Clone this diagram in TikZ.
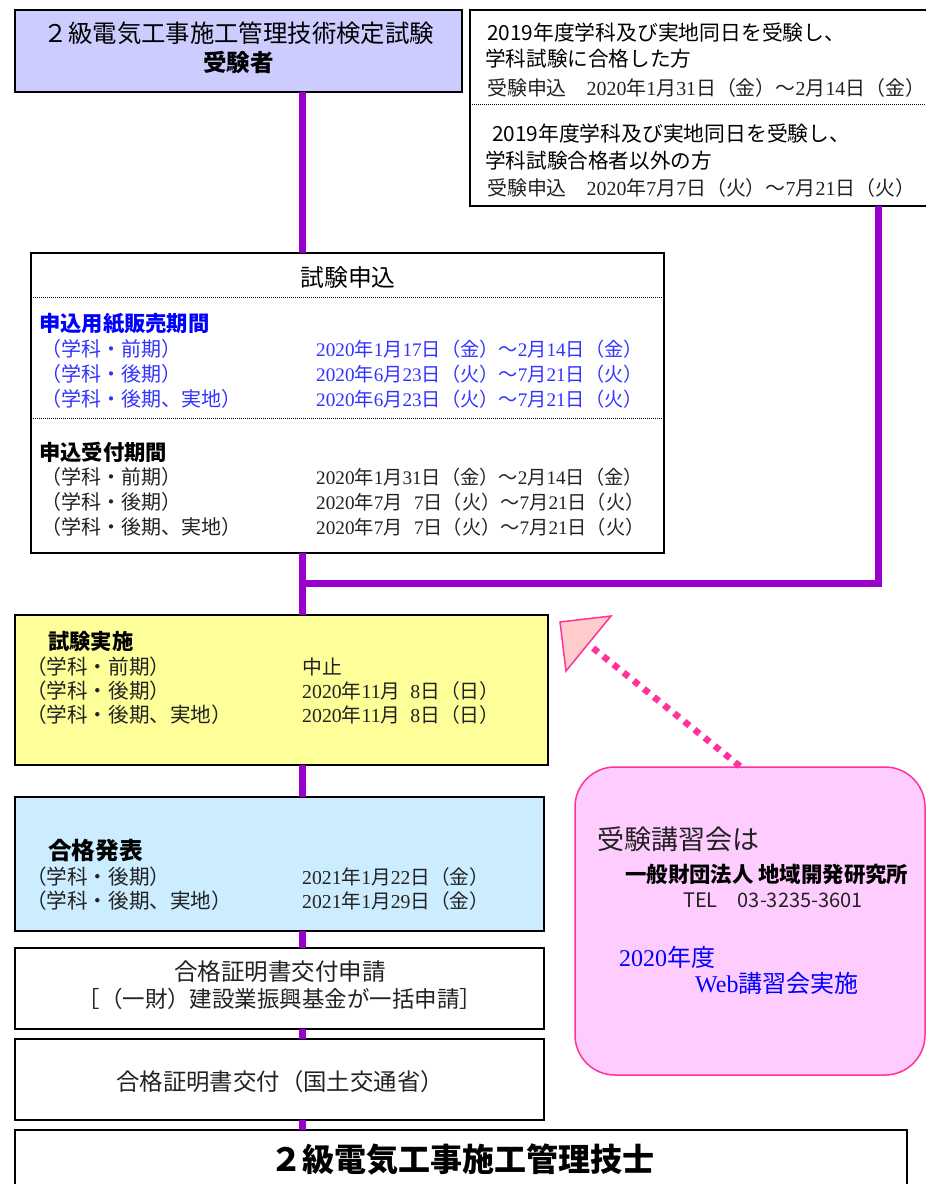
\documentclass[tikz,border=0pt]{standalone}
\usepackage{fontspec}
\setmainfont{Noto Sans CJK JP}
\newfontfamily\srf{Liberation Serif}
\newcommand\nn[1]{{\srf #1}}
\definecolor{pur}{HTML}{9900CC}
\definecolor{lav}{HTML}{CCCCFF}
\definecolor{yel}{HTML}{FFFF99}
\definecolor{sky}{HTML}{CCECFF}
\definecolor{pinkfill}{HTML}{FFCCFF}
\definecolor{pinkline}{HTML}{FF3399}
\definecolor{pinkhead}{HTML}{FFCCCC}
\definecolor{rowblue}{HTML}{3333FF}
\definecolor{txtgray}{HTML}{222222}
\tikzset{
  box/.style={draw=black, line width=1.6pt, inner sep=0pt, outer sep=0pt, rectangle, fill=white},
  pline/.style={draw=pur, line width=7pt},
  dotline/.style={draw=black, line width=1pt, dash pattern=on 1pt off 1pt},
  txt/.style={inner sep=0pt, anchor=west},
  ctxt/.style={inner sep=0pt, anchor=center},
  fs/.style={font=\fontsize{#1pt}{#1pt}\selectfont},
  bfs/.style={font=\fontsize{#1pt}{#1pt}\selectfont\bfseries},
  pinkdash/.style={draw=pinkline, line width=6.5pt, dash pattern=on 6.5pt off 6.5pt}
}
\begin{document}
\begin{tikzpicture}[x=1pt,y=-1pt]
\clip (0,0) rectangle (926,1184);
\fill[white] (0,0) rectangle (926,1184);

% boxes
\node[box, fill=lav, minimum width=447pt, minimum height=82pt] (b1) at (238.5,51) {};
\node[box, minimum width=457pt, minimum height=196pt] (b2) at (698.5,108) {};
\node[box, minimum width=633pt, minimum height=300pt] (apply) at (347.5,403) {};
\node[box, fill=yel, minimum width=533pt, minimum height=150pt] (exam) at (281.5,690) {};
\node[box, fill=sky, minimum width=529pt, minimum height=134pt] (pass) at (279.5,864) {};
\node[box, minimum width=529pt, minimum height=81pt] (cert1) at (279.5,988.5) {};
\node[box, minimum width=529pt, minimum height=81pt] (cert2) at (279.5,1079.5) {};
\node[box, minimum width=892pt, minimum height=65pt] (final) at (461,1162.5) {};
\node[draw=pinkline, fill=pinkfill, line width=1.5pt, rounded corners=40pt, minimum width=350pt, minimum height=308pt, inner sep=0pt] (pink) at (750,921) {};

% connectors
\coordinate (trunk) at (302,0);
\coordinate (rx) at (878,0);
\coordinate (join) at (302,583);
\draw[pline] (b1.south -| trunk) -- (apply.north -| trunk);
\draw[pline] (apply.south -| trunk) -- (exam.north -| trunk);
\draw[pline] (exam.south -| trunk) -- (pass.north -| trunk);
\draw[pline] (pass.south -| trunk) -- (cert1.north -| trunk);
\draw[pline] (cert1.south -| trunk) -- (cert2.north -| trunk);
\draw[pline] (cert2.south -| trunk) -- (final.north -| trunk);
\draw[pline] (b2.south -| rx) |- (join);

% top-left box
\node[ctxt, fs=24.4] (t1) at (239,33) {２級電気工事施工管理技術検定試験};
\node[ctxt, bfs=23.5] (t2) at (238.5,63) {受験者};

% top-right box
\node[txt, fs=20.8] at (487,33) {2019年度学科及び実地同日を受験し、};
\node[txt, fs=20.6] at (485,59) {学科試験に合格した方};
\node[txt, fs=19.9, text=txtgray] at (487,88) {受験申込　\nn{2020}年\nn{1}月\nn{31}日（金）～\nn{2}月\nn{14}日（金）};
\draw[dotline] (b2.west |- 0,104.5) -- (b2.east |- 0,104.5);
\node[txt, fs=20.8] at (492,134) {2019年度学科及び実地同日を受験し、};
\node[txt, fs=20.6] at (485,161) {学科試験合格者以外の方};
\node[txt, fs=19.9, text=txtgray] at (487,188) {受験申込　\nn{2020}年\nn{7}月\nn{7}日（火）～\nn{7}月\nn{21}日（火）};

% apply box
\node[ctxt, fs=23.8] at (348,277) {試験申込};
\draw[dotline] (apply.west |- 0,297) -- (apply.east |- 0,297);
\node[txt, bfs=21.3, text=blue] at (39,324) {申込用紙販売期間};
\node[txt, fs=20, text=rowblue] at (41,349) {（学科・前期）};
\node[txt, fs=20, text=rowblue] at (41,374) {（学科・後期）};
\node[txt, fs=20, text=rowblue] at (41,399) {（学科・後期、実地）};
\node[txt, fs=19.2, text=rowblue] at (316,349) {\nn{2020}年\nn{1}月\nn{17}日（金）～\nn{2}月\nn{14}日（金）};
\node[txt, fs=19.2, text=rowblue] at (316,374) {\nn{2020}年\nn{6}月\nn{23}日（火）～\nn{7}月\nn{21}日（火）};
\node[txt, fs=19.2, text=rowblue] at (316,399) {\nn{2020}年\nn{6}月\nn{23}日（火）～\nn{7}月\nn{21}日（火）};
\draw[dotline] (apply.west |- 0,418) -- (apply.east |- 0,418);
\node[txt, bfs=21.3] at (39,452) {申込受付期間};
\node[txt, fs=20, text=txtgray] at (41,477) {（学科・前期）};
\node[txt, fs=20, text=txtgray] at (41,502) {（学科・後期）};
\node[txt, fs=20, text=txtgray] at (41,527) {（学科・後期、実地）};
\node[txt, fs=19.2, text=txtgray] at (316,477) {\nn{2020}年\nn{1}月\nn{31}日（金）～\nn{2}月\nn{14}日（金）};
\node[txt, fs=19.2, text=txtgray] at (316,502) {\nn{2020}年\nn{7}月\hspace{0.6em}\nn{7}日（火）～\nn{7}月\nn{21}日（火）};
\node[txt, fs=19.2, text=txtgray] at (316,527) {\nn{2020}年\nn{7}月\hspace{0.6em}\nn{7}日（火）～\nn{7}月\nn{21}日（火）};

% exam box
\node[txt, bfs=21.3] at (48,641) {試験実施};
\node[txt, fs=20.6, text=txtgray] at (26,667) {（学科・前期）};
\node[txt, fs=20.6, text=txtgray] at (26,691) {（学科・後期）};
\node[txt, fs=20.6, text=txtgray] at (26,715) {（学科・後期、実地）};
\node[txt, fs=19.8, text=txtgray] at (302,667) {中止};
\node[txt, fs=19.8, text=txtgray] at (302,691) {\nn{2020}年\nn{11}月\hspace{0.5em}\nn{8}日（日）};
\node[txt, fs=19.8, text=txtgray] at (302,715) {\nn{2020}年\nn{11}月\hspace{0.5em}\nn{8}日（日）};

% pass box
\node[txt, bfs=23.7] at (48,851) {合格発表};
\node[txt, fs=20.6, text=txtgray] at (26,877) {（学科・後期）};
\node[txt, fs=20.6, text=txtgray] at (26,901) {（学科・後期、実地）};
\node[txt, fs=19.7, text=txtgray] at (302,877) {\nn{2021}年\nn{1}月\nn{22}日（金）};
\node[txt, fs=19.7, text=txtgray] at (302,901) {\nn{2021}年\nn{1}月\nn{29}日（金）};

% certificate boxes
\node[ctxt, fs=23.5, text=txtgray] at (280,972) {合格証明書交付申請};
\node[ctxt, fs=22.5, text=txtgray] at (280,999) {［（一財）建設業振興基金が一括申請］};
\node[ctxt, fs=23.4, text=txtgray] at (280,1082) {合格証明書交付（国土交通省）};

% final
\node[ctxt, bfs=32] at (462,1159) {２級電気工事施工管理技士};

% pink box texts
\node[txt, fs=27, text=txtgray] at (597,839) {受験講習会は};
\node[txt, bfs=21.4] at (625,874) {一般財団法人 地域開発研究所};
\node[txt, fs=20, text=txtgray] at (683,900) {TEL　03-3235-3601};
\node[txt, fs=24, text=blue] at (619,957) {\nn{2020}年度};
\node[txt, fs=24, text=blue] at (695,983) {\nn{Web}講習会実施};

% dotted arrow
\coordinate (ahead) at (588,644);
\draw[pinkdash] (pink.north -| 740,0) -- (ahead);
\draw[draw=pinkline, fill=pinkhead, line width=1.5pt, line join=miter] (560,622) -- (611,616) -- (566,671) -- cycle;
\end{tikzpicture}
\end{document}
